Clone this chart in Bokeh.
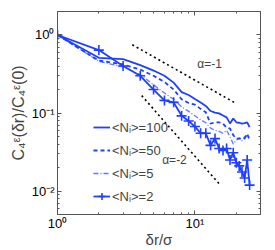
from bokeh.plotting import figure
from bokeh.models import (LogAxis, FixedTicker, CustomJSTickFormatter, Label,
                          Legend, LegendItem, Range1d)
from bokeh.embed import file_html
from bokeh.resources import INLINE

# ---- data ----
dr = list(range(1, 26))
c_n100 = [1.0, 0.51, 0.49, 0.41, 0.35, 0.30, 0.245, 0.185, 0.170, 0.151, 0.136, 0.123, 0.106,
          0.101, 0.099, 0.093, 0.088, 0.0735, 0.085, 0.076, 0.075, 0.073, 0.074, 0.076, 0.066]
c_n50 = [1.0, 0.47, 0.42, 0.36, 0.30, 0.25, 0.20, 0.15, 0.134, 0.128, 0.113, 0.102, 0.073,
         0.076, 0.076, 0.073, 0.065, 0.063, 0.052, 0.047, 0.047, 0.047, 0.047, 0.054, 0.045]
c_n5 = [1.0, 0.46, 0.39, 0.31, 0.23, 0.18, 0.15, 0.12, 0.105, 0.092, 0.082, 0.075, 0.064,
        0.060, 0.058, 0.055, 0.060, 0.050, 0.040, 0.045, 0.048, 0.044, 0.050, 0.052, 0.048]
c_n2 = [1.0, 0.64, 0.40, 0.30, 0.20, 0.145, 0.137, 0.092, 0.079, 0.067, 0.055, 0.055, 0.0385,
        0.047, 0.035, 0.033, 0.035, 0.025, 0.031, 0.023, 0.021, 0.0175, 0.0147, 0.025, 0.0119]

guide1_x = [3.5, 20.0]
guide1_y = [0.75, 0.132]
guide2_x = [4.1, 15.1]
guide2_y = [0.167, 0.0122]

series_labels = ["<N\u1d62>=100", "<N\u1d62>=50", "<N\u1d62>=5", "<N\u1d62>=2"]
x_major = [1, 10]
x_minor = [2, 3, 4, 5, 6, 7, 8, 9, 20, 30]
y_major = [0.01, 0.1, 1]
y_minor = [0.005, 0.006, 0.007, 0.008, 0.009, 0.02, 0.03, 0.04, 0.05, 0.06, 0.07, 0.08,
           0.09, 0.2, 0.3, 0.4, 0.5, 0.6, 0.7, 0.8, 0.9, 2]

BLUE = "#1f3fff"
FONT = "Liberation Sans"
AX = "#555555"

p = figure(width=268, height=250, x_axis_type="log", y_axis_type="log",
           x_range=Range1d(1, 30), y_range=Range1d(0.005, 2),
           output_backend="svg", toolbar_location=None,
           min_border_left=57, min_border_right=8, min_border_top=11, min_border_bottom=36)
p.grid.visible = False
p.outline_line_color = AX
p.outline_line_width = 1
p.background_fill_color = "white"

fmt = CustomJSTickFormatter(code="""
const e = Math.round(Math.log10(tick));
const sup = {"-": "\u207b", "0": "\u2070", "1": "\u00b9", "2": "\u00b2", "3": "\u00b3"};
return "10" + String(e).split("").map(c => sup[c]).join("");
""")

xt = FixedTicker(ticks=x_major, minor_ticks=x_minor)
yt = FixedTicker(ticks=y_major, minor_ticks=y_minor)

def style(ax, labels=True):
    ax.axis_line_color = None
    ax.major_tick_line_color = AX
    ax.minor_tick_line_color = AX
    ax.major_tick_in = 4
    ax.major_tick_out = 0
    ax.minor_tick_in = 2
    ax.minor_tick_out = 0
    if labels:
        ax.major_label_text_font = FONT
        ax.major_label_text_font_size = "13px"
        ax.major_label_text_color = "black"
        ax.major_label_standoff = 3
        ax.axis_label_text_font = FONT
        ax.axis_label_text_font_style = "normal"
        ax.axis_label_text_font_size = "15px"
        ax.axis_label_standoff = 2
    else:
        ax.major_label_text_font_size = "1px"
        ax.major_label_text_alpha = 0
        ax.major_label_standoff = 0

p.xaxis[0].ticker = xt
p.yaxis[0].ticker = yt
p.xaxis[0].formatter = fmt
p.yaxis[0].formatter = fmt
style(p.xaxis[0])
style(p.yaxis[0])
p.xaxis[0].major_label_standoff = 1
p.xaxis[0].axis_label_standoff = -3
p.yaxis[0].axis_label_text_font_size = "16px"
p.xaxis[0].axis_label = "\u03b4r/\u03c3"
p.yaxis[0].axis_label = "C\u2084\u1d4b(\u03b4r)/C\u2084\u1d4b(0)"

top = LogAxis(ticker=xt)
right = LogAxis(ticker=yt)
style(top, False)
style(right, False)
p.add_layout(top, "above")
p.add_layout(right, "right")

# guide lines
p.line(guide1_x, guide1_y, line_color="black", line_width=1.6, line_dash="2 3")
p.line(guide2_x, guide2_y, line_color="black", line_width=1.6, line_dash="2 3")

r100 = p.line(dr, c_n100, line_color=BLUE, line_width=1.8)
r50 = p.line(dr, c_n50, line_color=BLUE, line_width=1.8, line_dash="4 3")
r5 = p.line(dr, c_n5, line_color=BLUE, line_width=1.3, line_alpha=0.7, line_dash="5 2 1 2")
r2 = p.line(dr, c_n2, line_color=BLUE, line_width=1.8)
r2m = p.scatter(dr, c_n2, marker="cross", size=10, line_color=BLUE, line_width=1.6)

legend = Legend(items=[LegendItem(label=series_labels[0], renderers=[r100]),
                       LegendItem(label=series_labels[1], renderers=[r50]),
                       LegendItem(label=series_labels[2], renderers=[r5]),
                       LegendItem(label=series_labels[3], renderers=[r2, r2m])],
                location=(36, 8), glyph_width=17, glyph_height=20, label_height=20,
                spacing=3, padding=0, margin=0, label_standoff=2,
                label_text_font=FONT, label_text_font_size="13px",
                background_fill_alpha=0, border_line_alpha=0)
p.add_layout(legend)

p.add_layout(Label(x=12.8, y=0.42, text="\u03b1=-1", text_font=FONT, text_font_size="12px",
                   text_align="center", text_baseline="middle"))
p.add_layout(Label(x=7.1, y=0.025, text="\u03b1=-2", text_font=FONT, text_font_size="12px",
                   text_align="center", text_baseline="middle"))

open("out.html", "w").write(file_html(p, INLINE))
